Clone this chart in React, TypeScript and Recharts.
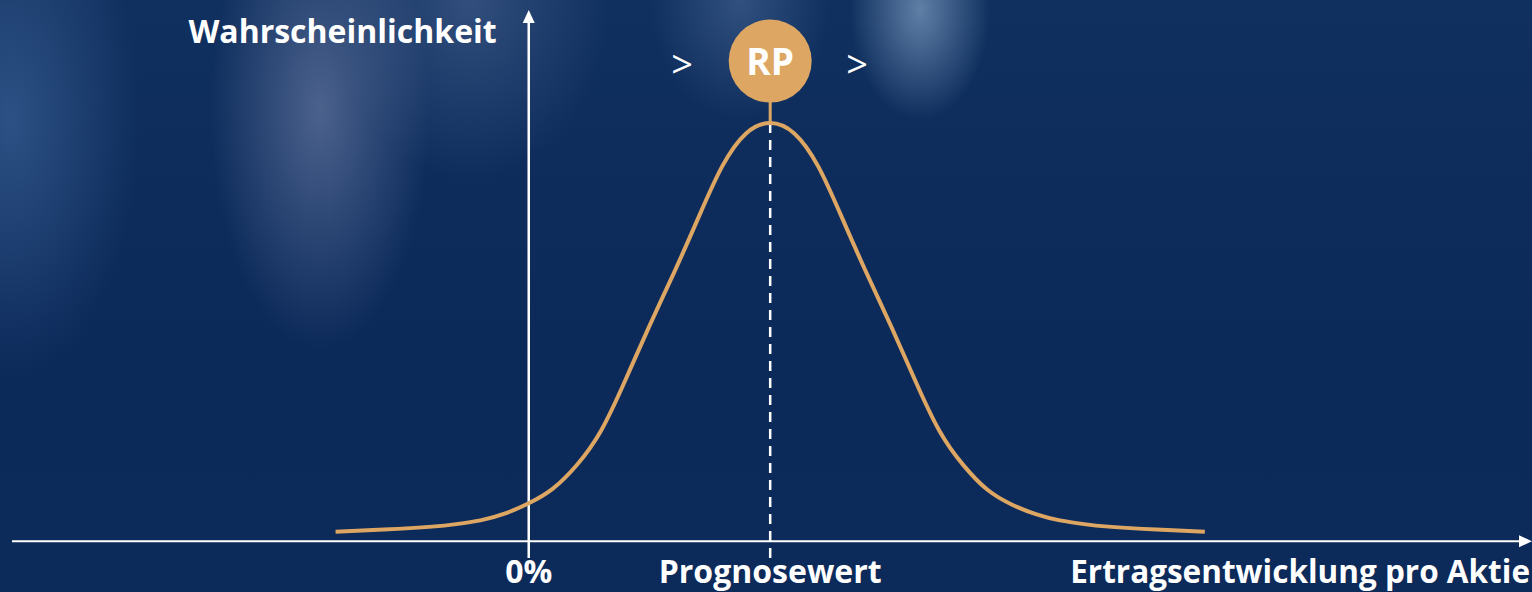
import React from "react";
import {
  ComposedChart, Line, XAxis, YAxis, ReferenceLine, ReferenceDot,
} from "recharts";

// x: Ertragsentwicklung (0 = 0%, 10 = Prognosewert), p: Wahrscheinlichkeit (peak = 100)
const xValues = [-8, -6, -4, -3, -2, -1, 0, 1, 2, 3, 4, 5, 6, 7, 8, 9, 10, 11, 12, 13, 14, 15, 16, 17, 18, 19, 20, 21, 22, 23, 24, 26, 28];
const density = [2.3, 2.8, 3.5, 4.1, 5.0, 6.6, 9.1, 12.6, 18.3, 26.5, 38.5, 51.5, 64, 77, 89.5, 97.5, 100, 97.5, 89.5, 77, 64, 51.5, 38.5, 26.5, 18.2, 12.3, 8.8, 6.5, 5.0, 4.1, 3.5, 2.8, 2.3];

const tickValues = [0, 10];
const tickLabels = ["0%", "Prognosewert"];
const xAxisTitle = "Ertragsentwicklung pro Aktie";
const yAxisTitle = "Wahrscheinlichkeit";
const markerText = "RP";

const data = xValues.map((x, i) => ({ x, p: density[i] }));

const GOLD = "#dda763";
const FONT = "'Open Sans', 'DejaVu Sans', sans-serif";

const X_DOMAIN: [number, number] = [-21.4, 41.55];
const Y_DOMAIN: [number, number] = [-4, 127];
const PEAK = 100;
const MARKER_Y = 114.8;

const background = [
  "radial-gradient(ellipse 110px 240px at 320px 110px, rgba(125,140,180,0.55), rgba(125,140,180,0) 100%)",
  "radial-gradient(ellipse 70px 110px at 920px 10px, rgba(150,180,215,0.6), rgba(150,180,215,0) 100%)",
  "radial-gradient(ellipse 90px 120px at 740px 0px, rgba(110,140,190,0.35), rgba(110,140,190,0) 100%)",
  "radial-gradient(ellipse 130px 260px at 10px 120px, rgba(70,110,165,0.55), rgba(70,110,165,0) 100%)",
  "radial-gradient(ellipse 140px 180px at 470px 0px, rgba(90,115,160,0.45), rgba(90,115,160,0) 100%)",
  "linear-gradient(180deg, #10305f 0%, #0b2959 60%, #0c2a5a 100%)",
].join(", ");

const upArrow = (props: any) => {
  const { cx, cy } = props;
  return (
    <g>
      <polygon points={`${cx},${cy} ${cx - 6},${cy + 13} ${cx + 6},${cy + 13}`} fill="#fff" />
      <text x={cx - 32} y={cy + 32.5} textAnchor="end" fill="#fff"
        fontFamily={FONT} fontWeight={700} fontSize={32}>{yAxisTitle}</text>
    </g>
  );
};

const rightArrow = (props: any) => {
  const { cx, cy } = props;
  return <polygon points={`${cx},${cy} ${cx - 13},${cy - 6} ${cx - 13},${cy + 6}`} fill="#fff" />;
};

const rpMarker = (props: any) => {
  const { cx, cy } = props;
  return (
    <g>
      <circle cx={cx} cy={cy} r={41.5} fill={GOLD} />
      <text x={cx} y={cy + 14} textAnchor="middle" fill="#fff"
        fontFamily={FONT} fontWeight={700} fontSize={37}>{markerText}</text>
      <text x={cx - 88} y={cy + 17} textAnchor="middle" fill="#fff"
        fontFamily={FONT} fontSize={38}>&gt;</text>
      <text x={cx + 87} y={cy + 17} textAnchor="middle" fill="#fff"
        fontFamily={FONT} fontSize={38}>&gt;</text>
    </g>
  );
};

const xTitle = (props: any) => {
  const { viewBox } = props;
  return (
    <text x={viewBox.x + viewBox.width - 2} y={viewBox.y + 24.5} textAnchor="end" fill="#fff"
      fontFamily={FONT} fontWeight={700} fontSize={31.5}>{xAxisTitle}</text>
  );
};

export default function App() {
  return (
    <div style={{ position: "absolute", left: 0, top: 0, width: 1532, height: 592, background, overflow: "hidden" }}>
      <ComposedChart width={1532} height={592} data={data}
        margin={{ top: 10, right: 0, bottom: 0, left: 12 }}>
        <XAxis
          dataKey="x" type="number" domain={X_DOMAIN} ticks={tickValues}
          tickFormatter={(v: number) => tickLabels[tickValues.indexOf(v)]}
          axisLine={false} tickLine={false} tickSize={0} tickMargin={2} height={34}
          tick={{ fill: "#fff", fontSize: 32, fontWeight: 700, fontFamily: FONT }}
          interval={0} allowDataOverflow
          label={{ content: xTitle }}
        />
        <YAxis hide type="number" domain={Y_DOMAIN} allowDataOverflow />

        {/* x axis line with arrow */}
        <ReferenceLine segment={[{ x: X_DOMAIN[0], y: 0 }, { x: 41.1, y: 0 }]}
          stroke="#fff" strokeWidth={2.2} ifOverflow="visible" />
        <ReferenceDot x={X_DOMAIN[1]} y={0} shape={rightArrow} ifOverflow="visible" />

        {/* y axis line with arrow */}
        <ReferenceLine segment={[{ x: 0, y: Y_DOMAIN[0] }, { x: 0, y: 124 }]}
          stroke="#fff" strokeWidth={2.5} ifOverflow="visible" />
        <ReferenceDot x={0} y={Y_DOMAIN[1]} shape={upArrow} ifOverflow="visible" />

        {/* forecast dashed line */}
        <ReferenceLine segment={[{ x: 10, y: Y_DOMAIN[0] }, { x: 10, y: PEAK }]}
          stroke="#fff" strokeWidth={2.5} strokeDasharray="10 7" ifOverflow="visible" />
        <ReferenceLine segment={[{ x: 10, y: PEAK }, { x: 10, y: MARKER_Y - 9 }]}
          stroke={GOLD} strokeWidth={3} ifOverflow="visible" />

        <Line dataKey="p" type="natural" stroke={GOLD} strokeWidth={4}
          dot={false} activeDot={false} isAnimationActive={false} />

        <ReferenceDot x={10} y={MARKER_Y} shape={rpMarker} ifOverflow="visible" />
      </ComposedChart>
    </div>
  );
}
